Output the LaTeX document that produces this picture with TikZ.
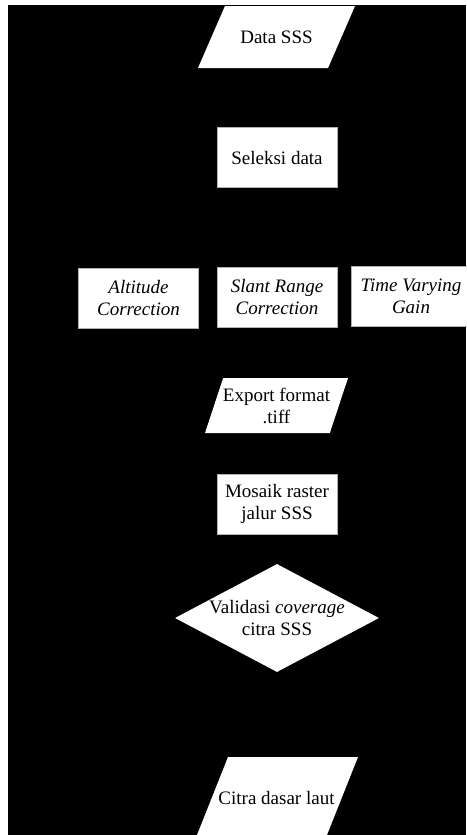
\documentclass[tikz,border=0pt]{standalone}
\usepackage{fontspec}
\setmainfont{Liberation Serif}
\usetikzlibrary{shapes.geometric}

\begin{document}
\begin{tikzpicture}[x=1pt,y=-1pt]
                \tikzstyle{every node}=[font=\fontsize{19}{22}\selectfont, align=center]
                \tikzstyle{proses} = [rectangle, draw=gray!60, fill=white, minimum width=120pt, minimum height=60pt, inner sep=0pt]
                \tikzstyle{masukan} = [trapezium, trapezium stretches body, fill=white, inner sep=0pt]
                \tikzstyle{keputusan} = [diamond, aspect=1.89, fill=white, minimum width=204pt, minimum height=108pt, inner sep=-6pt]

                \fill[white] (0,0) rectangle (466,835);
                \fill[black] (8,5) rectangle (466,835);
                \useasboundingbox (0,0) rectangle (466,835);

                \node[masukan, trapezium left angle=66.5, trapezium right angle=113.5, minimum width=157pt, text height=37.3pt, text depth=24.7pt](data) at (276.5,37) {Data SSS};
                \node[proses](seleksi) at (277,157.5) {Seleksi data};
                \node[proses](altitude) at (138.5,298) {\textit{Altitude}\\\textit{Correction}};
                \node[proses](slant) at (277,297) {\textit{Slant Range}\\\textit{Correction}};
                \node[proses](tvg) at (411,296.5) {\textit{Time Varying}\\\textit{Gain}};
                \node[masukan, trapezium left angle=63, trapezium right angle=117, minimum width=143pt, minimum height=55pt, inner xsep=-12pt](export) at (276.5,405.5) {Export format\\.tiff};
                \node[proses](mosaik) at (277,504) {Mosaik raster\\jalur SSS};
                \node[keputusan](validasi) at (277,618) {Validasi \textit{coverage}\\citra SSS};
                \node[masukan, trapezium left angle=68.3, trapezium right angle=111.7, minimum width=163pt, text height=47.3pt, text depth=35.7pt, inner xsep=-12pt](citra) at (276.5,798.5) {Citra dasar laut};

        \end{tikzpicture}
\end{document}
